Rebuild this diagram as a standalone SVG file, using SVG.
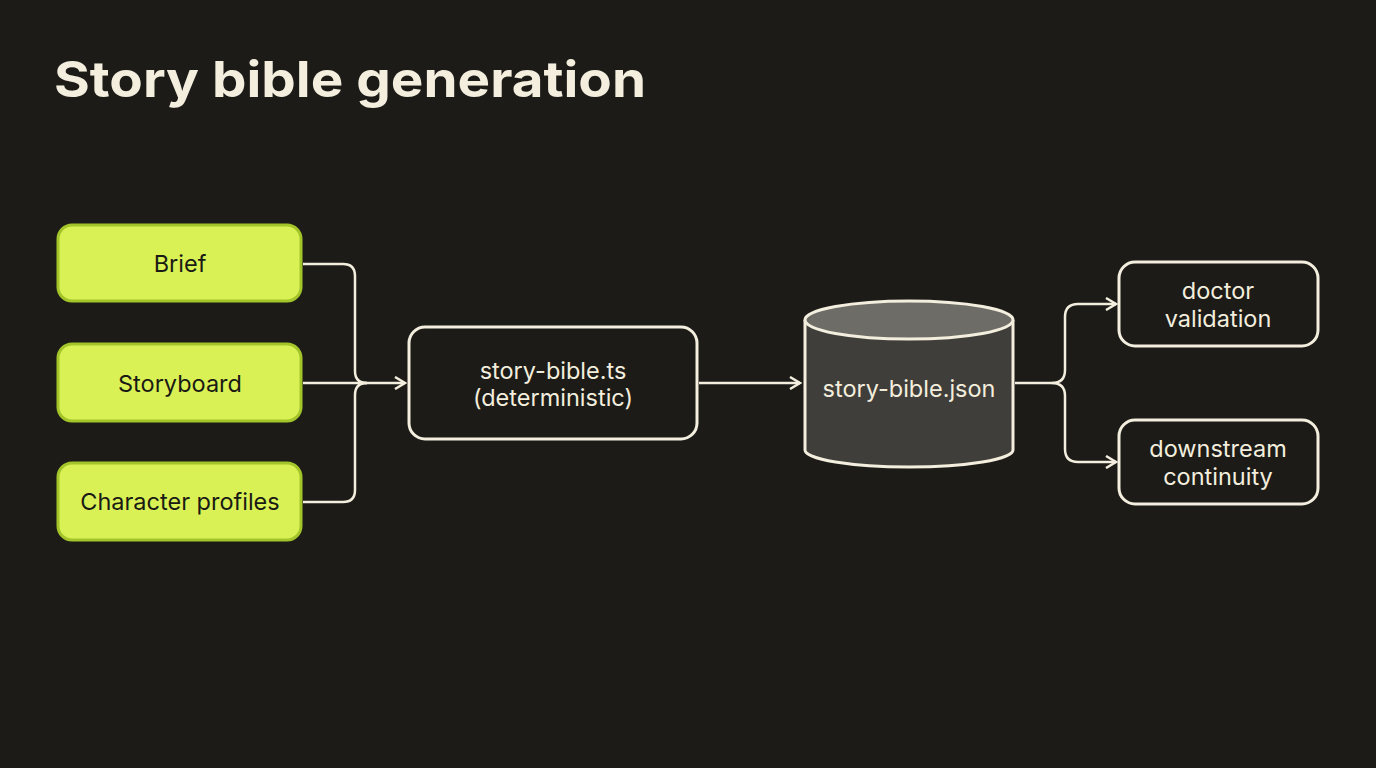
<svg xmlns="http://www.w3.org/2000/svg" width="1376" height="768" viewBox="0 0 1376 768">
<style>
.in{fill:#d9f154;stroke:#a3c52a;stroke-width:3}
.box{fill:#1c1b18;stroke:#f3eedd;stroke-width:3}
.t{font-family:Inter,"Liberation Sans",sans-serif;font-size:23.5px;text-anchor:middle;dominant-baseline:central}
.dk{fill:#1a1a14}
.lt{fill:#f3eedd}
.c{fill:none;stroke:#f3eedd;stroke-width:2.5;stroke-linejoin:round}
</style>
<defs><marker id="a" markerWidth="14" markerHeight="14" refX="12" refY="7" orient="auto" markerUnits="userSpaceOnUse"><path d="M2,1 L12,7 L2,13" fill="none" stroke="#f3eedd" stroke-width="2.5"/></marker></defs>
<rect width="1376" height="768" fill="#1c1b18"/>
<text x="54" y="97" font-family="Inter,'Liberation Sans',sans-serif" font-size="50" font-weight="700" fill="#f3eedd" textLength="592" lengthAdjust="spacingAndGlyphs">Story bible generation</text>
<g id="connectors">
<path class="c" d="M303,264 H343 Q355,264 355,276 V371 Q355,383 367,383"/>
<path class="c" d="M303,502 H343 Q355,502 355,490 V395 Q355,383 367,383"/>
<path class="c" d="M303,383 H405" marker-end="url(#a)"/>
<path class="c" d="M699,383 H800" marker-end="url(#a)"/>
<path class="c" d="M1015,383 H1052 Q1065,383 1065,370 V317 Q1065,304 1078,304 H1116" marker-end="url(#a)"/>
<path class="c" d="M1052,383 Q1065,383 1065,396 V449 Q1065,462 1078,462 H1116" marker-end="url(#a)"/>
</g>
<g id="brief"><rect class="in" x="58" y="225" width="243" height="76" rx="14"/><text class="t dk" x="180" y="263">Brief</text></g>
<g id="storyboard"><rect class="in" x="58" y="344" width="243" height="77" rx="14"/><text class="t dk" x="180" y="383">Storyboard</text></g>
<g id="profiles"><rect class="in" x="58" y="463" width="243" height="77" rx="14"/><text class="t dk" x="180" y="501">Character profiles</text></g>
<g id="script"><rect class="box" x="409" y="327" width="288" height="112" rx="16"/><text class="t lt" x="553" y="370">story-bible.ts</text><text class="t lt" x="553" y="397">(deterministic)</text></g>
<g id="json">
<path d="M805,320 V450 A104,17 0 0 0 1013,450 V320" fill="#403e3a" stroke="#f3eedd" stroke-width="3"/>
<ellipse cx="909" cy="320" rx="104" ry="19" fill="#6e6c67" stroke="#f3eedd" stroke-width="3"/>
<text class="t lt" x="909" y="388">story-bible.json</text></g>
<g id="doctor"><rect class="box" x="1119" y="262" width="199" height="84" rx="16"/><text class="t lt" x="1218" y="290">doctor</text><text class="t lt" x="1218" y="318">validation</text></g>
<g id="downstream"><rect class="box" x="1119" y="420" width="199" height="84" rx="16"/><text class="t lt" x="1218" y="448">downstream</text><text class="t lt" x="1218" y="476">continuity</text></g>
</svg>
